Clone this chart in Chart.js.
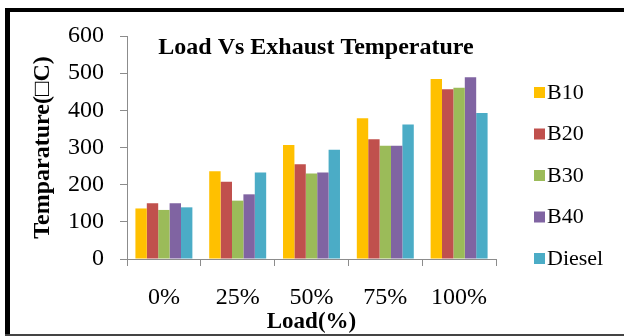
<!DOCTYPE html>
<html>
<head>
<meta charset="utf-8">
<script src="https://cdn.jsdelivr.net/npm/chart.js@4"></script>
<style>
  html, body { margin: 0; padding: 0; background: #fff; }
  #wrap { width: 624px; height: 336px; position: relative; }
</style>
</head>
<body>
<div id="wrap"><canvas id="c" width="624" height="336"></canvas></div>
<script>
// Exhaust gas temperature (°C) at each engine load
const loads = ['0%', '25%', '50%', '75%', '100%'];
const b10 = [136, 236, 307, 379, 484];
const b20 = [150, 208, 255, 322, 457];
const b30 = [132, 157, 230, 305, 461];
const b40 = [150, 174, 233, 305, 489];
const diesel = [139, 233, 294, 362, 393];
const seriesNames = ['B10', 'B20', 'B30', 'B40', 'Diesel'];
const seriesColors = ['#FFC000', '#C0504D', '#9BBB59', '#8064A2', '#4BACC6'];
const yTicks = [0, 100, 200, 300, 400, 500, 600];

const serif = "'Liberation Serif', 'Times New Roman', serif";
const axisGray = '#8c8c8c';

// Black frame around the figure
const framePlugin = {
  id: 'frame',
  afterDraw(chart) {
    const ctx = chart.ctx;
    ctx.save();
    ctx.fillStyle = '#000';
    ctx.fillRect(5, 8, 619, 4);
    ctx.fillRect(5, 8, 5, 328);
    ctx.fillStyle = '#444';
    ctx.fillRect(5, 334, 619, 2);
    ctx.restore();
  }
};

// Title drawn inside the plot area
const innerTitle = {
  id: 'innerTitle',
  afterDraw(chart) {
    const ctx = chart.ctx;
    ctx.save();
    ctx.font = 'bold 24px ' + serif;
    ctx.fillStyle = '#000';
    ctx.textAlign = 'center';
    ctx.textBaseline = 'alphabetic';
    ctx.fillText('Load Vs Exhaust Temperature', 316, 54);
    ctx.restore();
  }
};

// Vertical legend to the right of the plot
const sideLegend = {
  id: 'sideLegend',
  afterDraw(chart) {
    const ctx = chart.ctx;
    ctx.save();
    ctx.font = '22px ' + serif;
    ctx.textBaseline = 'middle';
    ctx.textAlign = 'left';
    chart.data.datasets.forEach((ds, i) => {
      const cy = 93 + i * 41.5;
      ctx.fillStyle = ds.backgroundColor;
      ctx.fillRect(534, cy - 6, 11, 11);
      ctx.fillStyle = '#000';
      ctx.fillText(ds.label, 547, cy);
    });
    ctx.restore();
  }
};

const values = [b10, b20, b30, b40, diesel];

new Chart(document.getElementById('c'), {
  type: 'bar',
  data: {
    labels: loads,
    datasets: seriesNames.map((name, i) => ({
      label: name,
      data: values[i],
      backgroundColor: seriesColors[i],
      borderWidth: 0,
      categoryPercentage: 0.772,
      barPercentage: 1.0
    }))
  },
  options: {
    responsive: false,
    animation: false,
    devicePixelRatio: 1,
    layout: { padding: { left: 10, top: 36, right: 128, bottom: 0 } },
    plugins: {
      legend: { display: false },
      title: { display: false },
      tooltip: { enabled: false }
    },
    scales: {
      x: {
        offset: true,
        grid: {
          offset: true,
          drawOnChartArea: false,
          drawTicks: true,
          tickLength: 7,
          color: axisGray
        },
        border: { color: axisGray, width: 1 },
        ticks: {
          color: '#000',
          font: { family: serif, size: 24 },
          padding: 17,
          maxRotation: 0
        },
        title: {
          display: true,
          text: 'Load(%)',
          color: '#000',
          font: { family: serif, size: 23, weight: 'bold' },
          padding: { top: 0, bottom: 0 }
        },
        afterFit(scale) { scale.height = 77; }
      },
      y: {
        min: 0,
        max: 600,
        afterBuildTicks(scale) { scale.ticks = yTicks.map(v => ({ value: v })); },
        grid: {
          drawOnChartArea: false,
          drawTicks: true,
          tickLength: 7,
          color: axisGray
        },
        border: { color: axisGray, width: 1 },
        ticks: {
          color: '#000',
          font: { family: serif, size: 24 },
          padding: 16
        },
        title: {
          display: true,
          text: 'Temparature(\u25A1C)',
          color: '#000',
          font: { family: serif, size: 24, weight: 'bold' },
          padding: { top: 18, bottom: 0 }
        },
        afterFit(scale) { scale.width = 117; }
      }
    }
  },
  plugins: [framePlugin, innerTitle, sideLegend]
});
</script>
</body>
</html>
